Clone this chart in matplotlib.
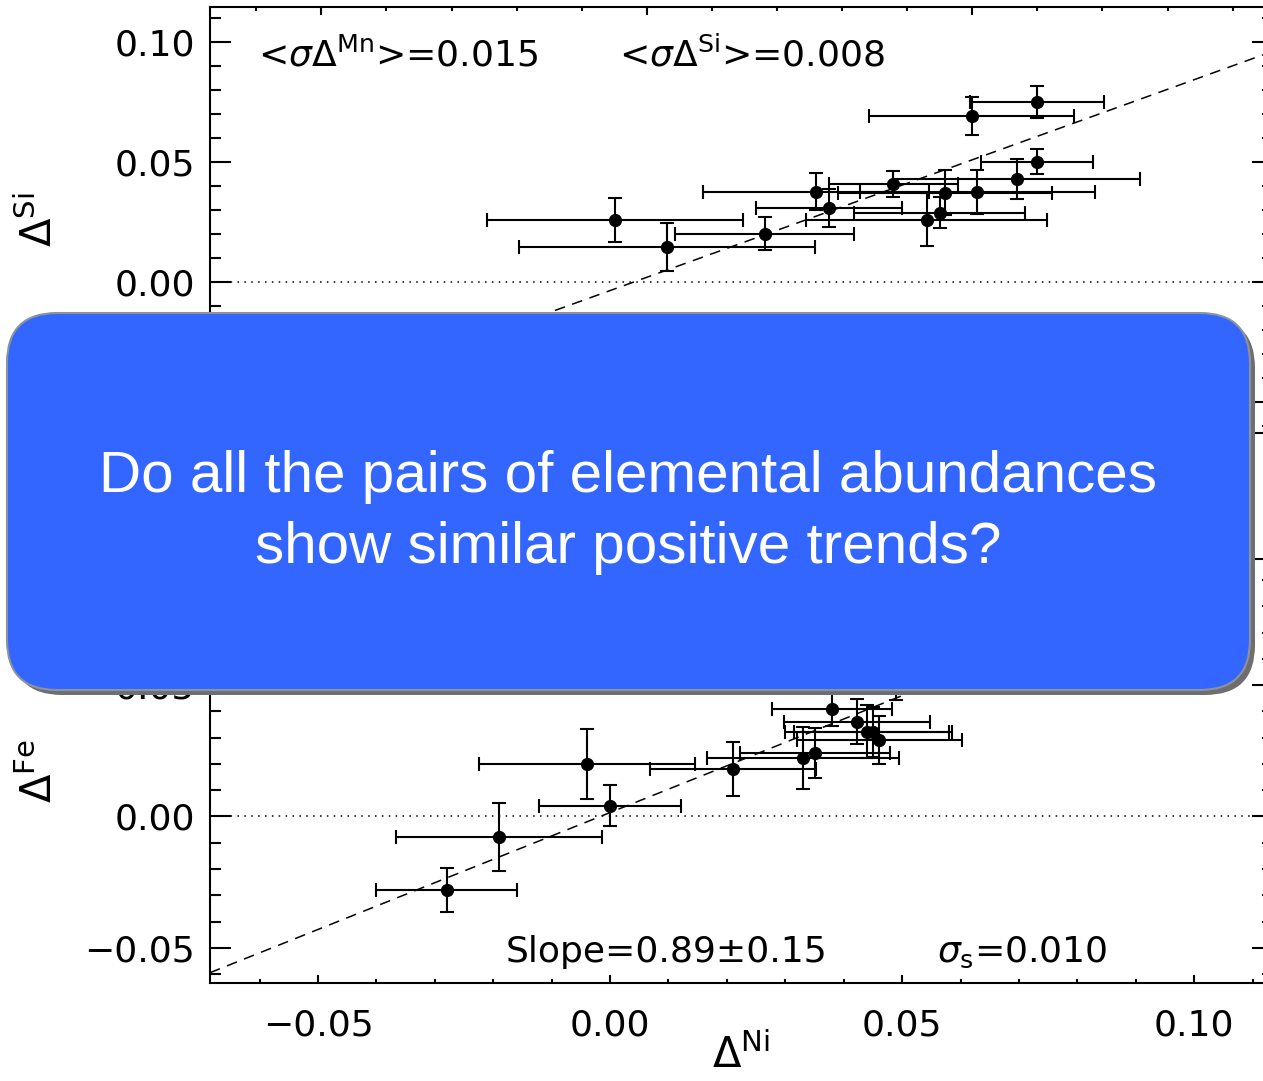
import matplotlib
matplotlib.use('Agg')
import matplotlib.pyplot as plt
from matplotlib.patches import FancyBboxPatch
from matplotlib.ticker import MultipleLocator, FuncFormatter
import numpy as np

W, H = 1263, 1081

# ---- top panel: Delta Si vs Delta Mn ----
mn = [-0.0049, 0.0031, 0.0181, 0.0260, 0.0280, 0.0379, 0.0458, 0.0450, 0.0430,
      0.0508, 0.0568, 0.0599, 0.0499, 0.0599]
si = [0.0260, 0.0147, 0.0201, 0.0376, 0.0310, 0.0410, 0.0372, 0.0289, 0.0260,
      0.0376, 0.0430, 0.0501, 0.0693, 0.0751]
mn_err = [0.0197, 0.0228, 0.0137, 0.0173, 0.0112, 0.0099, 0.0165, 0.0131, 0.0185,
          0.0181, 0.0190, 0.0086, 0.0157, 0.0103]
si_err = [0.0092, 0.0100, 0.0069, 0.0077, 0.0079, 0.0054, 0.0094, 0.0065, 0.0110,
          0.0090, 0.0083, 0.0052, 0.0081, 0.0067]
fit_top = (0.98, 0.0020)   # slope, intercept

# ---- bottom panel: Delta Fe vs Delta Ni ----
ni = [-0.0280, -0.0190, -0.0040, 0.0000, 0.0211, 0.0330, 0.0351, 0.0380, 0.0422,
      0.0440, 0.0450, 0.0461, 0.0490]
fe = [-0.0280, -0.0078, 0.0200, 0.0041, 0.0181, 0.0223, 0.0242, 0.0409, 0.0361,
      0.0322, 0.0322, 0.0291, 0.0544]
ni_err = [0.0121, 0.0177, 0.0185, 0.0122, 0.0142, 0.0164, 0.0129, 0.0102, 0.0125,
          0.0140, 0.0135, 0.0141, 0.0140]
fe_err = [0.0084, 0.0131, 0.0133, 0.0078, 0.0103, 0.0118, 0.0095, 0.0065, 0.0086,
          0.0101, 0.0095, 0.0091, 0.0100]
fit_bot = (0.89, 0.0015)

top_notes = ['<$\\sigma\\Delta^{\\rm Mn}$>=0.015', '<$\\sigma\\Delta^{\\rm Si}$>=0.008']
bot_notes = ['Slope=0.89\u00b10.15', '$\\sigma_{\\rm s}$=0.010']
question = ['Do all the pairs of elemental abundances', 'show similar positive trends?']

plt.rcParams['font.family'] = ['DejaVu Sans']
plt.rcParams['mathtext.fontset'] = 'dejavusans'

fig = plt.figure(figsize=(W / 100, H / 100), dpi=100)


def px_axes(x0, y0, x1, y1):
    return [x0 / W, 1 - y1 / H, (x1 - x0) / W, (y1 - y0) / H]


ax1 = fig.add_axes(px_axes(210, 7.3, 1273, 432.7))
ax2 = fig.add_axes(px_axes(210, 559.3, 1273, 983.3))

fmt = FuncFormatter(lambda v, p: ('%.2f' % (0.0 if abs(v) < 1e-9 else v)).replace('-', '\u2212'))
FS = 26


def style(ax):
    for s in ax.spines.values():
        s.set_linewidth(1.5)
    ax.xaxis.set_major_locator(MultipleLocator(0.05))
    ax.xaxis.set_minor_locator(MultipleLocator(0.01))
    ax.yaxis.set_major_locator(MultipleLocator(0.05))
    ax.yaxis.set_minor_locator(MultipleLocator(0.01))
    ax.xaxis.set_major_formatter(fmt)
    ax.yaxis.set_major_formatter(fmt)
    ax.tick_params(which='both', direction='in', top=True, right=True, width=1.5,
                   labelsize=FS)
    ax.tick_params(axis='y', which='major', length=15, pad=11)
    ax.tick_params(axis='y', which='minor', length=8)
    ax.tick_params(axis='x', which='major', length=6, pad=18)
    ax.tick_params(axis='x', which='minor', length=3)


def panel(ax, x, y, xe, ye, fit, xlim, ylim):
    ax.set_xlim(*xlim)
    ax.set_ylim(*ylim)
    ax.errorbar(x, y, xerr=xe, yerr=ye, fmt='o', color='k', ms=8.5,
                elinewidth=1.5, capsize=5, capthick=1.5)
    xs = np.array(xlim)
    ax.plot(xs, fit[0] * xs + fit[1], color='k', ls=(0, (7, 5)), lw=1.1)
    ax.axhline(0, color='k', ls=(0, (1, 3.5)), lw=1.1)
    style(ax)


panel(ax1, mn, si, mn_err, si_err, fit_top, (-0.0671, 0.0962), (-0.0628, 0.1146))
panel(ax2, ni, fe, ni_err, fe_err, fit_bot, (-0.0685, 0.1135), (-0.0635, 0.0979))
# top panel's own x tick labels lie entirely under the question box
ax1.tick_params(axis='x', labelbottom=False)

ax1.set_ylabel(r'$\Delta^{\rm Si}$', fontsize=30)
ax1.yaxis.set_label_coords(-0.14, 0.5)
ax2.set_ylabel(r'$\Delta^{\rm Fe}$', fontsize=30)
ax2.yaxis.set_label_coords(-0.14, 0.5)
ax2.set_xlabel(r'$\Delta^{\rm Ni}$', fontsize=30)
ax2.xaxis.set_label_coords(0.5, -0.118)

ax1.text(0.0456, 0.860, top_notes[0], transform=ax1.transAxes, fontsize=FS, va='baseline')
ax1.text(0.385, 0.860, top_notes[1], transform=ax1.transAxes, fontsize=FS, va='baseline')
ax2.text(0.2785, 0.050, bot_notes[0], transform=ax2.transAxes, fontsize=FS, va='baseline')
ax2.text(0.684, 0.050, bot_notes[1], transform=ax2.transAxes, fontsize=FS, va='baseline')

# overlay question box (pixel coordinates)
ov = fig.add_axes([0, 0, 1, 1], zorder=20)
ov.set_xlim(0, W)
ov.set_ylim(H, 0)
ov.axis('off')
ov.patch.set_alpha(0)
style_box = 'round,pad=0,rounding_size=50'
ov.add_patch(FancyBboxPatch((12, 318), 1243, 377, boxstyle=style_box,
                            fc='#6e6e6e', ec='none'))
ov.add_patch(FancyBboxPatch((7, 313), 1243, 377, boxstyle=style_box,
                            fc='#3366FF', ec='#8d939c', lw=1.5))
ov.text(628, 492, question[0], ha='center', va='baseline', color='white',
        fontsize=42, family=['Liberation Sans', 'DejaVu Sans'])
ov.text(628, 563, question[1], ha='center', va='baseline', color='white',
        fontsize=42, family=['Liberation Sans', 'DejaVu Sans'])

fig.savefig('out.png', dpi=100)
